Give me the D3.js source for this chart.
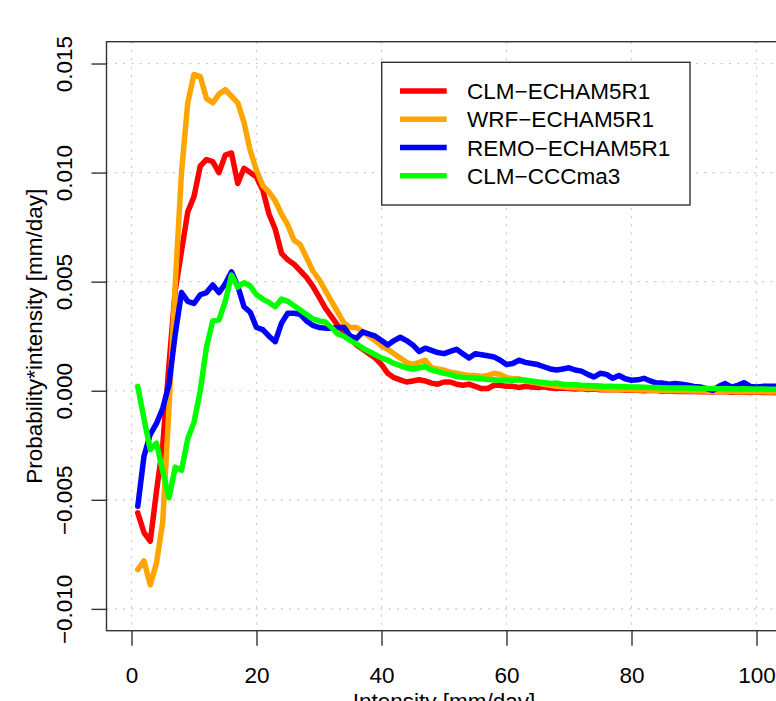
<!DOCTYPE html>
<html>
<head>
<meta charset="utf-8">
<script src="https://cdn.jsdelivr.net/npm/d3@7/dist/d3.min.js"></script>
<style>
  html, body { margin: 0; padding: 0; background: #fff; }
  svg { display: block; font-family: "Liberation Sans", Arial, Helvetica, sans-serif; }
</style>
</head>
<body>
<svg id="chart" width="776" height="701"></svg>
<script>
// ---------------- data (values in units of 0.001) ----------------
const UNIT = 1e-3;
const intensity = d3.range(1, 104); // 1 .. 103 mm/day

const seriesNames = ["CLM\u2212ECHAM5R1", "WRF\u2212ECHAM5R1", "REMO\u2212ECHAM5R1", "CLM\u2212CCCma3"];
const seriesColors = ["#ff0000", "#ffa500", "#0000ff", "#00ff00"];

const clmEcham = [
  -5.6, -6.5, -6.9, -4.6, -2.5, 1.2, 4.6, 6.4, 8.2, 8.9,
  10.3, 10.6, 10.5, 10.0, 10.8, 10.9, 9.5, 10.2, 10.0, 9.8,
  9.2, 8.1, 7.4, 6.3, 6.0, 5.8, 5.5, 5.2, 4.8, 4.3,
  3.8, 3.4, 3.0, 2.7, 2.4, 2.1, 1.9, 1.7, 1.5, 1.2,
  0.8, 0.6, 0.5, 0.4, 0.45, 0.5, 0.45, 0.35, 0.3, 0.4,
  0.4, 0.3, 0.25, 0.3, 0.2, 0.1, 0.1, 0.25, 0.25, 0.2,
  0.2, 0.15, 0.2, 0.17, 0.15, 0.18, 0.12, 0.1, 0.12, 0.1,
  0.08, 0.1, 0.06, 0.08, 0.05, 0.06, 0.04, 0.05, 0.02, 0.03,
  0.02, 0.0, 0.02, 0.01, -0.02, 0.0, -0.03, -0.02, -0.04, -0.03,
  -0.05, -0.03, -0.06, -0.04, -0.05, -0.07, -0.05, -0.06, -0.08, -0.06,
  -0.08, -0.07, -0.08
];
const wrfEcham = [
  -8.2, -7.8, -8.9, -7.9, -6.0, -0.8, 4.9, 10.0, 13.2, 14.5,
  14.4, 13.4, 13.2, 13.6, 13.8, 13.5, 13.2, 12.3, 11.0, 10.1,
  9.4, 9.1, 8.7, 8.1, 7.6, 6.9, 6.7, 6.1, 5.5, 5.1,
  4.6, 4.1, 3.6, 3.1, 2.9, 2.9, 2.7, 2.5, 2.3, 2.05,
  1.9, 1.7, 1.5, 1.3, 1.2, 1.3, 1.4, 1.05, 1.0, 0.95,
  0.85, 0.8, 0.75, 0.7, 0.7, 0.65, 0.7, 0.8, 0.75, 0.6,
  0.55, 0.55, 0.45, 0.4, 0.35, 0.3, 0.25, 0.2, 0.18, 0.15,
  0.14, 0.12, 0.1, 0.1, 0.08, 0.06, 0.07, 0.05, 0.04, 0.05,
  0.03, 0.04, 0.02, 0.03, 0.01, 0.02, 0.0, 0.01, 0.0, -0.01,
  0.0, -0.02, -0.01, -0.03, -0.02, -0.03, -0.04, -0.03, -0.05, -0.04,
  -0.05, -0.06, -0.05
];
const remoEcham = [
  -5.3, -3.0, -2.0, -1.5, -0.8, 0.3, 2.6, 4.5, 4.1, 4.0,
  4.4, 4.5, 4.85, 4.5, 4.9, 5.45, 4.8, 3.85, 3.6, 2.9,
  2.8, 2.5, 2.25, 3.1, 3.55, 3.55, 3.5, 3.2, 3.0, 2.9,
  2.87, 2.87, 2.9, 2.9, 2.5, 2.4, 2.7, 2.6, 2.5, 2.3,
  2.1, 2.3, 2.45, 2.3, 2.1, 1.8, 1.95, 1.85, 1.75, 1.7,
  1.8, 1.9, 1.7, 1.5, 1.7, 1.65, 1.6, 1.55, 1.4, 1.2,
  1.25, 1.4, 1.3, 1.25, 1.2, 1.1, 1.0, 0.95, 1.0, 1.05,
  0.95, 0.9, 0.75, 0.63, 0.8, 0.75, 0.57, 0.7, 0.55, 0.48,
  0.5, 0.57, 0.45, 0.35, 0.35, 0.3, 0.33, 0.3, 0.25, 0.2,
  0.17, 0.1, 0.02, 0.2, 0.33, 0.17, 0.25, 0.37, 0.2, 0.17,
  0.2, 0.2, 0.2
];
const clmCccma = [
  0.2, -1.3, -2.7, -2.4, -3.7, -4.9, -3.5, -3.65, -2.2, -1.45,
  0.0, 2.0, 3.2, 3.25, 4.1, 5.3, 4.75, 4.95, 4.8, 4.4,
  4.2, 4.05, 3.85, 4.2, 4.1, 3.9, 3.7, 3.5, 3.3, 3.2,
  3.15, 2.9, 2.6, 2.5, 2.3, 2.15, 1.95, 1.8, 1.65, 1.5,
  1.4, 1.25, 1.15, 1.05, 1.0, 1.05, 1.1, 0.95, 0.88, 0.8,
  0.75, 0.65, 0.62, 0.6, 0.58, 0.55, 0.52, 0.5, 0.48, 0.5,
  0.47, 0.5, 0.48, 0.45, 0.4, 0.38, 0.33, 0.35, 0.3, 0.28,
  0.27, 0.25, 0.24, 0.23, 0.22, 0.2, 0.2, 0.19, 0.18, 0.17,
  0.17, 0.16, 0.15, 0.15, 0.14, 0.13, 0.13, 0.12, 0.12, 0.11,
  0.1, 0.1, 0.1, 0.09, 0.1, 0.09, 0.08, 0.09, 0.08, 0.08,
  0.08, 0.07, 0.07
];
const seriesValues = [clmEcham, wrfEcham, remoEcham, clmCccma];

const xTicks = [0, 20, 40, 60, 80, 100];
const yTicks = [-0.010, -0.005, 0.000, 0.005, 0.010, 0.015];
const yTickLabels = ["\u22120.010", "\u22120.005", "0.000", "0.005", "0.010", "0.015"];
const xTitle = "Intensity [mm/day]";
const yTitle = "Probability*intensity [mm/day]";

// ---------------- layout ----------------
const L = 106.5, R = 781.5, T = 41.7, B = 630.7;
const FS = 22.5;
const svg = d3.select("#chart");

const x = d3.scaleLinear().domain([-4, 104]).range([L, R]);
const y = d3.scaleLinear().domain([-0.011, 0.016]).range([B, T]);

svg.append("defs").append("clipPath").attr("id", "plotclip")
  .append("rect").attr("x", L).attr("y", T).attr("width", R - L).attr("height", B - T);

// grid
const grid = svg.append("g").attr("stroke", "#c8c8c8").attr("stroke-width", 1.2)
  .attr("stroke-dasharray", "2,6.3");
grid.selectAll("line.vx").data(xTicks).join("line")
  .attr("x1", d => x(d)).attr("x2", d => x(d)).attr("y1", T).attr("y2", B);
grid.selectAll("line.hy").data(yTicks).join("line")
  .attr("y1", d => y(d)).attr("y2", d => y(d)).attr("x1", L).attr("x2", R);

// lines
const line = d3.line().x((d, i) => x(intensity[i])).y(d => y(d * UNIT));
const lines = svg.append("g").attr("clip-path", "url(#plotclip)");
seriesValues.forEach((vals, k) => {
  lines.append("path").datum(vals)
    .attr("d", line)
    .attr("fill", "none")
    .attr("stroke", seriesColors[k])
    .attr("stroke-width", 5.5)
    .attr("stroke-linejoin", "round")
    .attr("stroke-linecap", "round");
});

// box
svg.append("rect").attr("x", L).attr("y", T).attr("width", R - L).attr("height", B - T)
  .attr("fill", "none").attr("stroke", "#333").attr("stroke-width", 1.4);

// axes
const xAxis = svg.append("g").attr("transform", `translate(0,${B})`)
  .call(d3.axisBottom(x).tickValues(xTicks).tickSize(15).tickFormat(d3.format("d")));
xAxis.select(".domain").remove();
xAxis.selectAll(".tick line").attr("stroke", "#333").attr("stroke-width", 1.4);
xAxis.selectAll(".tick text").attr("y", 52.6).attr("dy", null)
  .attr("font-size", FS).attr("font-family", "Liberation Sans, Arial, sans-serif").attr("fill", "#000");

const yAxis = svg.append("g").attr("transform", `translate(${L},0)`)
  .call(d3.axisLeft(y).tickValues(yTicks).tickSize(15).tickFormat((d, i) => yTickLabels[i]));
yAxis.select(".domain").remove();
yAxis.selectAll(".tick line").attr("stroke", "#333").attr("stroke-width", 1.4);
yAxis.selectAll(".tick text")
  .attr("transform", "rotate(-90)")
  .attr("x", 0).attr("y", -34.5).attr("dy", null)
  .attr("text-anchor", "middle")
  .attr("font-size", FS).attr("font-family", "Liberation Sans, Arial, sans-serif").attr("fill", "#000");

// axis titles
svg.append("text").attr("x", (L + R) / 2).attr("y", 708.5)
  .attr("text-anchor", "middle").attr("font-size", FS).attr("fill", "#000").text(xTitle);
svg.append("text").attr("transform", `translate(41.5,${(T + B) / 2}) rotate(-90)`)
  .attr("text-anchor", "middle").attr("font-size", FS).attr("fill", "#000").text(yTitle);

// legend
const lg = svg.append("g");
lg.append("rect").attr("x", 381.7).attr("y", 62.3).attr("width", 308.3).attr("height", 142.7)
  .attr("fill", "#fff").attr("stroke", "#333").attr("stroke-width", 1.4);
const rowY = d3.scaleLinear().domain([0, 3]).range([91, 175.7]);
seriesNames.forEach((name, k) => {
  lg.append("line").attr("x1", 400).attr("x2", 446.7)
    .attr("y1", rowY(k)).attr("y2", rowY(k))
    .attr("stroke", seriesColors[k]).attr("stroke-width", 5.5);
  lg.append("text").attr("x", 467).attr("y", rowY(k) + 8.2)
    .attr("font-size", FS).attr("fill", "#000").text(name);
});
</script>
</body>
</html>
